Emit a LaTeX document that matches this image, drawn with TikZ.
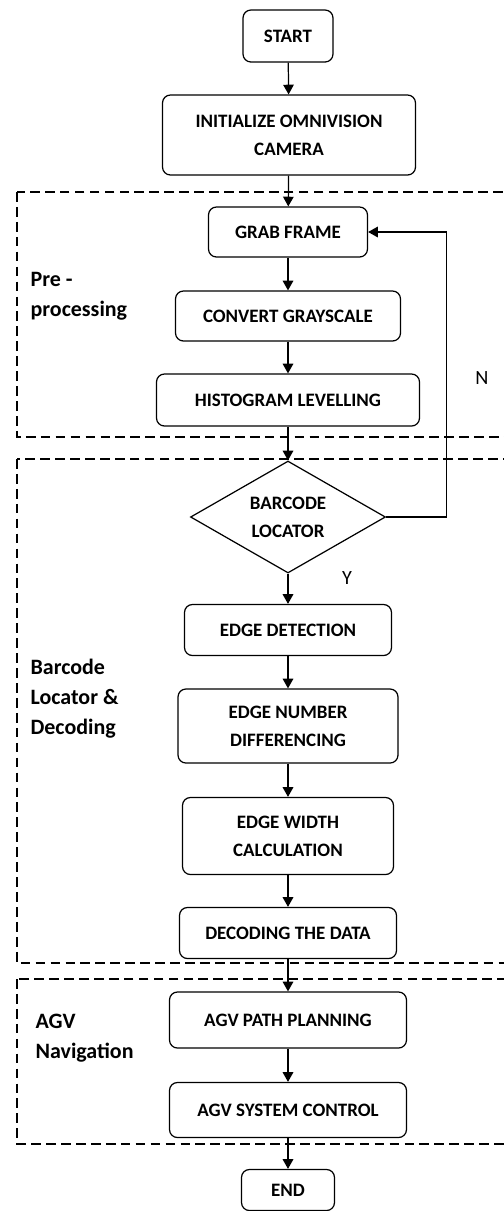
\documentclass[tikz,border=0pt]{standalone}
\usepackage{fontspec}
\setmainfont{Carlito}
\usetikzlibrary{shapes.geometric,arrows.meta}

\begin{document}
\begin{tikzpicture}[x=0.02cm, y=-0.02cm, line width=0.7pt,
		box/.style = {draw, rounded corners=4.5pt, align=center, inner sep=0pt,
			font=\bfseries\fontsize{10.8}{16}\selectfont},
		flow/.style = {-{Triangle[length=5.5pt,width=6pt]}},
		group/.style = {draw, dashed, dash pattern=on 5.5pt off 3pt},
		side/.style = {anchor=west, align=left, inner sep=0pt,
			font=\bfseries\fontsize{12.5}{17}\selectfont}]
			\useasboundingbox (0, 0) rectangle (504, 1211);
			% groups
			\draw[group] 
				(17, 192) rectangle (530, 437)
				(17, 459) rectangle (530, 963)
				(17, 979) rectangle (530, 1144);
			\node[side] (pre) at (30, 296) {Pre -\\processing};
			\node[side] (loc) at (30, 699) {Barcode\\Locator \&\\Decoding};
			\node[side] (nav) at (35, 1038) {AGV\\Navigation};
			% steps
			\node[box, minimum width=90*0.02cm, minimum height=52*0.02cm] (start) at (288, 36) {START};
			\node[box, minimum width=253*0.02cm, minimum height=80*0.02cm] (init) at (289, 135) {INITIALIZE OMNIVISION\\CAMERA};
			\node[box, minimum width=159*0.02cm, minimum height=50*0.02cm] (grab) at (288, 232) {GRAB FRAME};
			\node[box, minimum width=225*0.02cm, minimum height=50*0.02cm] (gray) at (288, 316) {CONVERT GRAYSCALE};
			\node[box, minimum width=263*0.02cm, minimum height=52*0.02cm] (hist) at (288, 400) {HISTOGRAM LEVELLING};
			\node[draw, diamond, aspect=1.74, inner sep=0pt, align=center,
				minimum width=195*0.02cm, minimum height=112*0.02cm,
				font=\bfseries\fontsize{10.8}{16}\selectfont] (bar) at (288, 517) {BARCODE\\LOCATOR};
			\node[box, minimum width=207*0.02cm, minimum height=51*0.02cm] (edge) at (288, 630) {EDGE DETECTION};
			\node[box, minimum width=220*0.02cm, minimum height=74*0.02cm] (diff) at (288, 726) {EDGE NUMBER\\DIFFERENCING};
			\node[box, minimum width=211*0.02cm, minimum height=77*0.02cm] (width) at (288, 836) {EDGE WIDTH\\CALCULATION};
			\node[box, minimum width=217*0.02cm, minimum height=51*0.02cm] (dec) at (288, 933) {DECODING THE DATA};
			\node[box, minimum width=237*0.02cm, minimum height=56*0.02cm] (path) at (288, 1020) {AGV PATH PLANNING};
			\node[box, minimum width=237*0.02cm, minimum height=55*0.02cm] (ctrl) at (288, 1110) {AGV SYSTEM CONTROL};
			\node[box, minimum width=93*0.02cm, minimum height=41*0.02cm] (end) at (288, 1190) {END};
			% answers
			\node[font=\fontsize{11.5}{14}\selectfont] (no) at (482, 378) {N};
			\node[font=\fontsize{11.5}{14}\selectfont] (yes) at (347, 578) {Y};
			% arrows
			\draw[flow] (start) -- (init);
			\draw[flow] (init) -- (grab);
			\draw[flow] (grab) -- (gray);
			\draw[flow] (gray) -- (hist);
			\draw[flow] (hist) -- (bar);
			\draw[flow] (bar) -- (edge);
			\draw[flow] (edge) -- (diff);
			\draw[flow] (diff) -- (width);
			\draw[flow] (width) -- (dec);
			\draw[flow] (dec) -- (path);
			\draw[flow] (path) -- (ctrl);
			\draw[flow] (ctrl) -- (end);
			\draw[flow] (bar.east) -- ++(60, 0) |- (grab.east);
		\end{tikzpicture}
\end{document}
